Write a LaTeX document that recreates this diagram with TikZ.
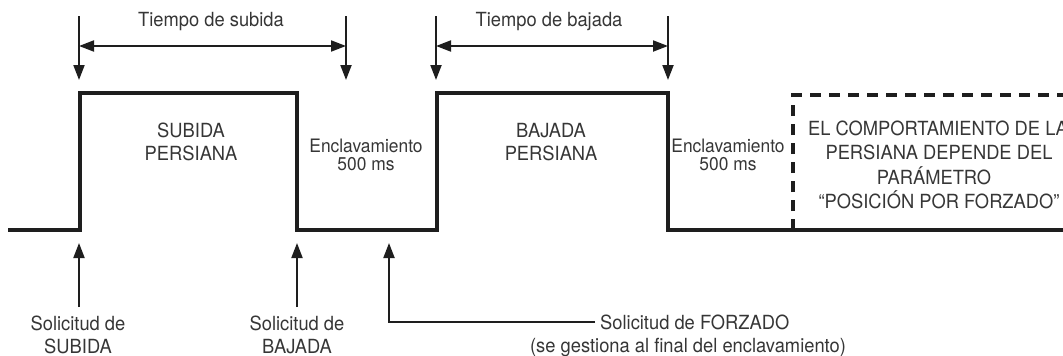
\documentclass[tikz,border=0pt]{standalone}
\usepackage{fontspec}
\setmainfont{TeX Gyre Heros}[FakeStretch=0.94]
\usetikzlibrary{arrows.meta}
\definecolor{ink}{HTML}{1E1E1E}
\definecolor{txt}{HTML}{363636}
\begin{document}
\begin{tikzpicture}[x=1pt,y=-1pt,
  sig/.style={line width=4.5pt, line join=miter, draw=ink},
  tip/.style={-{Triangle[length=15pt,width=11pt]}},
  dim/.style={line width=2pt, draw=ink, tip},
  dimboth/.style={line width=2pt, draw=ink, {Triangle[length=15pt,width=11pt]}-{Triangle[length=15pt,width=11pt]}},
  lbl/.style={font=\fontsize{19.5}{23}\selectfont, text=txt, inner sep=0pt, anchor=base},
  lblsmall/.style={font=\fontsize{18.5}{18.5}\selectfont, text=txt, inner sep=0pt, anchor=base}]
\useasboundingbox (0,0) rectangle (1063,356);

% signal
\draw[sig] (8,230) -- (80,230) -- (80,93) -- (297,93) -- (297,230) -- (437,230)
  -- (437,93) -- (668,93) -- (668,230) -- (1075,230);
\draw[sig, dash pattern=on 11pt off 8pt] (793,230) -- (793,95) -- (1075,95);

% top markers
\coordinate (t1a) at (79,16);  \coordinate (t1b) at (79,80);
\coordinate (t2a) at (346,16); \coordinate (t2b) at (346,80);
\coordinate (t3a) at (436,16); \coordinate (t3b) at (436,80);
\coordinate (t4a) at (668,16); \coordinate (t4b) at (668,80);
\coordinate (h1a) at (79,46);  \coordinate (h1b) at (346,46);
\coordinate (h2a) at (436,46); \coordinate (h2b) at (668,46);
\draw[dim] (t1a) -- (t1b);
\draw[dim] (t2a) -- (t2b);
\draw[dim] (t3a) -- (t3b);
\draw[dim] (t4a) -- (t4b);
\draw[dimboth] (h1a) -- (h1b);
\draw[dimboth] (h2a) -- (h2b);
\node[lbl] (ts) at (211,27) {Tiempo de subida};
\node[lbl] (tb) at (549,27) {Tiempo de bajada};

% texts inside
\node[lbl] (sp1) at (191,137) {SUBIDA};
\node[lbl] (sp2) at (191,160) {PERSIANA};
\node[lbl] (bp1) at (551,137) {BAJADA};
\node[lbl] (bp2) at (551,160) {PERSIANA};
\node[lblsmall] (e1a) at (366,152) {Enclavamiento};
\node[lblsmall] (e1b) at (366,170) {500 ms};
\node[lblsmall] (e2a) at (728,152) {Enclavamiento};
\node[lblsmall] (e2b) at (728,170) {500 ms};
\node[lbl] (d1) at (938,135) {EL COMPORTAMIENTO DE LA};
\node[lbl] (d2) at (939,159.5) {PERSIANA DEPENDE DEL};
\node[lbl] (d3) at (934,184) {PARÁMETRO};
\node[lbl] (d4) at (939,208.5) {“POSICIÓN POR FORZADO”};

% bottom requests
\coordinate (b1a) at (79,307);  \coordinate (b1b) at (79,243);
\coordinate (b2a) at (297,307); \coordinate (b2b) at (297,243);
\coordinate (b3b) at (389,243);
\draw[dim] (b1a) -- (b1b);
\draw[dim] (b2a) -- (b2b);
\node[lbl] (rs1) at (78,330) {Solicitud de};
\node[lbl] (rs2) at (78,353) {SUBIDA};
\node[lbl] (rb1) at (297,330) {Solicitud de};
\node[lbl] (rb2) at (297,353) {BAJADA};
\node[lbl, anchor=base west] (rf1) at (600,329) {Solicitud de FORZADO};
\node[lbl] (rf2) at (688,352) {(se gestiona al final del enclavamiento)};
\draw[dim] ([xshift=-5pt]rf1.west) -| (b3b);
\end{tikzpicture}
\end{document}
